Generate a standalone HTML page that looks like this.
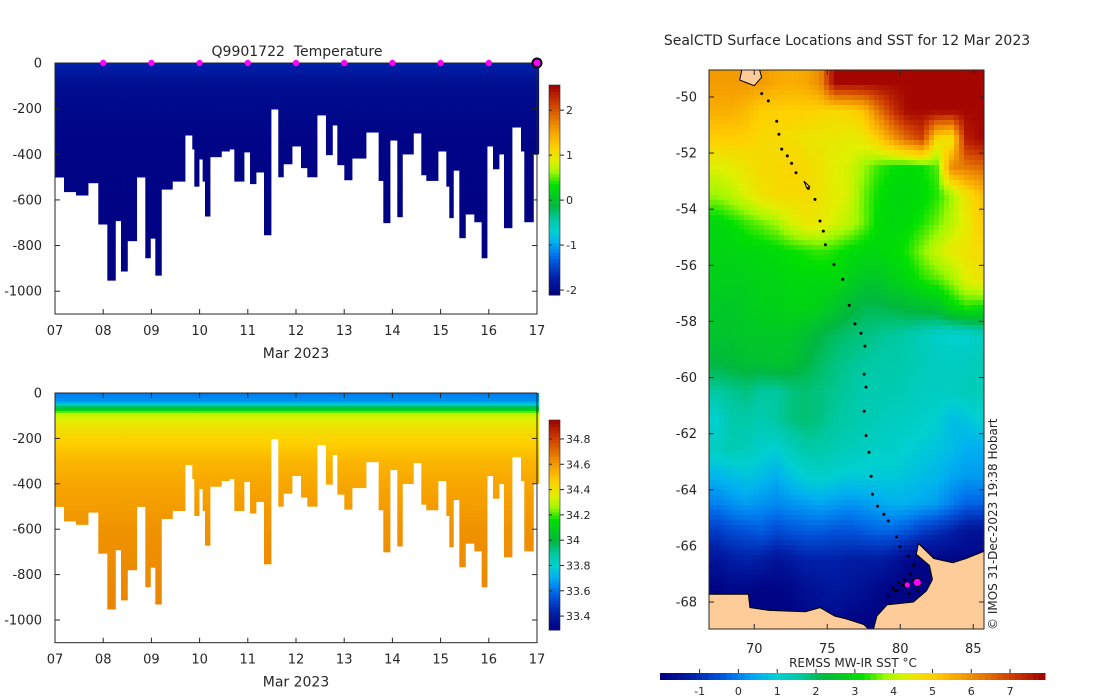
<!DOCTYPE html>
<html><head><meta charset="utf-8"><style>
html,body{margin:0;padding:0;background:#fff;}
svg{display:block;font-family:"DejaVu Sans","Liberation Sans",sans-serif;}
text{fill:#262626;}
</style></head><body>
<svg id="s" width="1100" height="700" viewBox="0 0 1100 700" xmlns="http://www.w3.org/2000/svg">
<defs>
<clipPath id="mapclip"><rect x="709" y="70" width="275" height="559"/></clipPath>
</defs>
<g id="topPanel"></g>
<g id="botPanel"></g>
<g id="mapPanel"></g>
</svg>
<script>
// ---------- profile data ----------
const profileStart=[0,0.187,0.436,0.685,0.899,1.086,1.252,1.369,1.501,1.694,1.874,1.978,2.082,2.206,2.434,2.697,2.849,2.891,2.988,3.064,3.112,3.216,3.451,3.617,3.721,3.921,4.046,4.170,4.336,4.481,4.633,4.737,4.917,5.104,5.235,5.436,5.622,5.754,5.858,6.003,6.162,6.452,6.715,6.812,6.950,7.102,7.206,7.434,7.600,7.704,7.946,8.119,8.181,8.264,8.389,8.513,8.700,8.852,8.963,9.087,9.212,9.315,9.481,9.668,9.737,9.924];
const profileEndLast=10.035;
const profileDepth=[500,564,579,525,706,952,691,912,779,500,854,768,930,553,518,316,377,540,421,518,671,411,386,377,518,390,529,478,753,202,499,442,364,459,499,228,402,272,446,512,417,303,515,700,338,674,399,307,490,515,386,540,678,470,766,662,696,854,364,464,399,722,281,386,696,399];
const levelDepth=[0,20,40,50,60,75,90,150,200,300,400,600,1000];
const tempLevel=[-1.72,-1.75,-1.8,-1.83,-1.86,-1.9,-1.93,-1.97,-2.0,-2.03,-2.05,-2.06,-2.07];
const salLevel=[33.62,33.64,33.68,33.78,33.95,34.1,34.3,34.4,34.45,34.53,34.57,34.62,34.66];
const markerDays=[1,2,3,4,5,6,7,8,9];
const lastMarkerDay=10;
const dayLabels=["07","08","09","10","11","12","13","14","15","16","17"];
const depthTicks=[0,200,400,600,800,1000];
const tempTicks=[2,1,0,-1,-2];
const salTicks=[34.8,34.6,34.4,34.2,34,33.8,33.6,33.4];
// ---------- map data ----------
const gridLon=[67.5,68.5,69.5,70.5,71.5,72.5,73.5,74.5,75.5,76.5,77.5,78.5,79.5,80.5,81.5,82.5,83.5,84.5,85.5];
const gridLat=[-49.5,-50.5,-51.5,-52.5,-53.5,-54.5,-55.5,-56.5,-57.5,-58.5,-59.5,-60.5,-61.5,-62.5,-63.5,-64.5,-65.5,-66.5,-67.5,-68.5];
const sst=[
[5.8,5.8,5.8,5.8,5.6,5.5,5.6,6.0,7.8,7.8,7.8,7.8,7.8,7.8,7.8,7.8,7.8,7.8,7.8],
[5.5,5.5,5.3,5.0,5.0,5.0,5.0,4.9,4.8,4.9,5.2,6.3,7.2,7.8,7.8,7.8,7.8,7.8,7.8],
[5.0,5.0,5.0,4.8,4.8,4.7,4.6,4.5,4.5,4.4,4.5,5.0,5.8,6.5,7.0,4.8,4.5,7.5,7.8],
[4.3,4.4,4.6,4.8,4.8,4.9,4.8,4.6,4.3,4.2,3.8,3.4,3.2,3.1,3.2,3.5,6.0,6.3,6.5],
[3.8,4.0,4.3,4.6,4.8,4.8,4.8,4.6,4.4,4.2,3.6,3.2,3.0,3.0,3.1,3.3,3.8,4.6,5.2],
[3.0,3.2,3.4,3.6,3.8,4.2,4.5,4.5,4.2,4.0,3.6,3.1,3.0,3.1,3.3,3.6,4.0,4.4,5.0],
[2.9,2.9,3.0,3.0,3.1,3.2,3.3,3.4,3.3,3.1,3.0,3.0,3.1,3.3,3.7,4.1,4.4,4.6,4.8],
[2.8,2.8,2.8,2.9,2.9,3.0,3.0,3.0,3.0,2.8,2.6,2.6,2.8,3.0,3.3,3.5,3.8,4.3,4.6],
[2.6,2.6,2.7,2.8,2.8,2.9,2.9,2.8,2.6,2.3,2.1,2.1,2.2,2.3,2.4,2.5,3.0,3.3,3.2],
[2.5,2.5,2.6,2.6,2.6,2.6,2.4,2.2,2.0,1.9,1.8,1.7,1.6,1.5,1.3,1.1,1.0,1.0,1.2],
[2.2,2.3,2.4,2.4,2.5,2.4,2.2,2.0,1.8,1.7,1.6,1.5,1.5,1.4,1.3,1.2,1.2,1.2,1.3],
[1.6,1.7,1.8,1.6,1.6,1.8,1.9,1.8,1.7,1.6,1.4,1.4,1.4,1.3,1.2,1.2,1.2,1.3,1.3],
[1.0,1.5,1.5,1.4,1.6,1.8,1.9,1.8,1.6,1.5,1.4,1.3,1.2,1.2,1.1,1.0,0.7,0.8,1.0],
[1.2,1.4,1.3,1.1,1.0,1.3,1.5,1.5,1.4,1.3,1.2,1.1,1.1,1.0,0.9,0.8,0.7,0.5,0.5],
[0.6,0.7,0.8,0.7,0.5,0.8,1.0,1.1,1.0,0.9,0.9,0.9,0.9,0.8,0.7,0.6,0.4,0.3,0.3],
[0.0,0.2,0.3,0.2,0.1,0.2,0.3,0.4,0.3,0.2,0.3,0.4,0.5,0.5,0.4,0.3,0.0,-0.3,-0.3],
[-0.8,-0.6,-0.5,-0.4,-0.6,-0.5,-0.4,-0.4,-0.5,-0.5,-0.4,-0.3,-0.3,-0.5,-0.8,-1.0,-1.2,-1.5,-1.6],
[-1.5,-1.3,-1.2,-1.3,-1.5,-1.4,-1.2,-1.2,-1.2,-1.3,-1.3,-1.3,-1.5,-1.8,-1.9,-1.9,-1.9,-1.8,-1.8],
[-1.9,-1.8,-1.8,-1.9,-1.9,-1.8,-1.6,-1.5,-1.4,-1.5,-1.6,-1.8,-1.9,-1.9,-1.9,-1.9,-1.9,-1.9,-1.9],
[-1.9,-1.9,-1.9,-1.9,-1.9,-1.9,-1.8,-1.7,-1.7,-1.8,-1.9,-1.9,-1.9,-1.9,-1.9,-1.9,-1.9,-1.9,-1.9]];
const trackLon=[70.51,70.96,71.54,71.69,71.88,72.26,72.56,72.86,73.70,74.16,74.5,74.73,74.87,75.46,76.06,76.5,76.9,77.31,77.58,77.52,77.65,77.52,77.65,77.86,78.0,78.1,78.45,78.88,79.18,79.75,79.98,80.55,80.9,80.7,80.3,79.9,79.5,80.9,81.2,80.6,79.8,79.2,79.6,80.2];
const trackLat=[-49.88,-50.14,-50.87,-51.33,-51.86,-52.1,-52.37,-52.70,-53.26,-53.65,-54.42,-54.78,-55.27,-55.97,-56.5,-57.43,-58.09,-58.42,-58.88,-59.88,-60.34,-61.2,-62.07,-62.66,-63.52,-64.16,-64.58,-64.87,-65.11,-65.68,-66.04,-66.37,-66.7,-67.0,-67.2,-67.3,-67.5,-67.2,-67.6,-67.7,-67.6,-67.8,-67.6,-67.4];
const latestLon=[80.48,81.17];
const latestLat=[-67.39,-67.3];
const landWestLon=[66.5,69.6,69.7,71,73.5,74.5,75.5,76.3,77.5,77.8,77.8,66.5];
const landWestLat=[-67.72,-67.72,-68.2,-68.3,-68.35,-68.2,-68.5,-68.6,-68.8,-68.95,-69.5,-69.5];
const landEastLon=[81.24,82.3,83.6,84.5,85.7,86.5,86.5,77.9,78.4,79.1,80.9,81.8,82.2,82.0,81.1];
const landEastLat=[-65.91,-66.45,-66.6,-66.45,-66.2,-66.2,-69.5,-69.5,-68.5,-68.1,-68.0,-67.6,-67.2,-66.7,-66.3];
const kergLon=[69.2,70.3,70.5,70.0,69.5,69.0];
const kergLat=[-48.9,-48.9,-49.3,-49.6,-49.5,-49.4];
const heardLon=[73.4,73.8,73.6];
const heardLat=[-53.0,-53.2,-53.25];
const latTicks=[-50,-52,-54,-56,-58,-60,-62,-64,-66,-68];
const lonTicks=[70,75,80,85];
const sstTicks=[-1,0,1,2,3,4,5,6,7];

// ---------- colormap ----------
const cmV=[-2,-1.2,-0.5,0,0.5,1.0,1.6,2.2,3.2,3.8,4.3,5,5.6,6.2,7,7.9];
const cmC=["#000080","#0020a8","#0050d8","#0080f0","#00b0f0","#00d0d0","#00c8a0","#00b840","#00e000","#a0f800","#e0f000","#ffd000","#f8a800","#e88000","#d04000","#a00000"];
function hex(c){return [parseInt(c.slice(1,3),16),parseInt(c.slice(3,5),16),parseInt(c.slice(5,7),16)];}
function cmap(f){
  let v=-2.02+f*9.92;
  if(v<=cmV[0])return cmC[0]; if(v>=cmV[cmV.length-1])return cmC[cmC.length-1];
  for(let i=0;i<cmV.length-1;i++){ if(v<=cmV[i+1]){const t=(v-cmV[i])/(cmV[i+1]-cmV[i]);const a=hex(cmC[i]),b=hex(cmC[i+1]);
    return "rgb("+a.map((x,k)=>Math.round(x+(b[k]-x)*t)).join(",")+")";}}
  return cmC[cmC.length-1];
}
const NS="http://www.w3.org/2000/svg";
function mk(tag,attrs,parent,txt){const e=document.createElementNS(NS,tag);for(const k in attrs)e.setAttribute(k,attrs[k]);if(txt!==undefined)e.textContent=txt;parent.appendChild(e);return e;}
function interp(xs,ys,x){if(x<=xs[0])return ys[0];for(let i=0;i<xs.length-1;i++){if(x<=xs[i+1]){const t=(x-xs[i])/(xs[i+1]-xs[i]);return ys[i]+(ys[i+1]-ys[i])*t;}}return ys[ys.length-1];}
const AX="#262626";

function panel(g,y0,pxPerM,levelVals,vmin,vmax,ticks,cbTop,cbBot,title,idp){
  const X0=55,X1=537,pxDay=48.2,YB=y0+1100*pxPerM;
  const xD=d=>X0+d*pxDay, yZ=z=>y0+z*pxPerM, fV=v=>(v-vmin)/(vmax-vmin);
  const data=mk("g",{},g);
  
  
  for(let i=0;i<profileStart.length;i++){
    const a=xD(profileStart[i]), b=xD(i+1<profileStart.length?profileStart[i+1]:profileEndLast);
    const dmax=profileDepth[i];
    for(let z=0;z<dmax;z+=8){
      const z2=Math.min(z+8,dmax);
      const v=interp(levelDepth,levelVals,(z+z2)/2);
      const r=mk("rect",{x:a.toFixed(2),y:yZ(z).toFixed(2),width:(b-a+0.4).toFixed(2),height:((z2-z)*pxPerM+0.4).toFixed(2),fill:cmap(fV(v))},data);
      
      
    }
  }
  const box=mk("rect",{x:X0,y:y0,width:X1-X0,height:YB-y0,fill:"none",stroke:AX,"stroke-width":1},g);
  
  
  dayLabels.forEach((l,i)=>{const x=xD(i);
    mk("line",{x1:x,x2:x,y1:YB,y2:YB-5,stroke:AX},g);mk("line",{x1:x,x2:x,y1:y0,y2:y0+5,stroke:AX},g);
    const t=mk("text",{x:x,y:YB+21,"font-size":13,"text-anchor":"middle"},g,l);
    
    
  });
  depthTicks.forEach(d=>{const y=yZ(d);
    mk("line",{x1:X0,x2:X0+5,y1:y,y2:y,stroke:AX},g);mk("line",{x1:X1,x2:X1-5,y1:y,y2:y,stroke:AX},g);
    const t=mk("text",{x:X0-13,y:y+4.5,"font-size":13,"text-anchor":"end"},g,d===0?"0":"-"+d);
    
    
  });
  const xl=mk("text",{x:296,y:YB+44,"font-size":14,"text-anchor":"middle"},g,"Mar 2023");
  
  
  if(title){const t=mk("text",{x:297,y:y0-7,"font-size":14,"text-anchor":"middle"},g,title);
    
    }
  const cb=mk("g",{},g);
  
  
  const n=64;
  for(let k=0;k<n;k++){const y=cbBot-(k+1)*(cbBot-cbTop)/n;
    mk("rect",{x:549,y:y.toFixed(2),width:11,height:((cbBot-cbTop)/n+0.5).toFixed(2),fill:cmap((k+0.5)/n)},cb);}
  mk("rect",{x:549,y:cbTop,width:11,height:cbBot-cbTop,fill:"none",stroke:AX,"stroke-width":0.6},cb);
  ticks.forEach(v=>{const y=cbBot-(v-vmin)/(vmax-vmin)*(cbBot-cbTop);
    mk("line",{x1:560,x2:564,y1:y,y2:y,stroke:AX},cb);mk("line",{x1:549,x2:552,y1:y,y2:y,stroke:AX},cb);
    const t=mk("text",{x:566,y:y+4,"font-size":11,"text-anchor":"start"},cb,String(v));
    
    
  });
  return {xD:xD,y0:y0};
}
const topG=document.getElementById("topPanel");
const P=panel(topG,63,0.2282,tempLevel,-2.11,2.56,tempTicks,85,295,"Q9901722\u00a0 Temperature","temperature");
markerDays.forEach(d=>{const c=mk("circle",{cx:P.xD(d),cy:63,r:3.2,fill:"#ff00ff"},topG);
  
  });
const lm=mk("circle",{cx:P.xD(lastMarkerDay),cy:63,r:4.5,fill:"#ff00ff",stroke:"#000","stroke-width":2},topG);


panel(document.getElementById("botPanel"),393,0.227,salLevel,33.29,34.95,salTicks,420,630,null,"salinity");

// ---------- map ----------
const mapG=document.getElementById("mapPanel");
const MX0=709,MX1=984,MY0=70,MY1=629;
const xL=lon=>MX0+(lon-66.9)*14.6, yL=lat=>MY0+(-49.04-lat)*28.06;
const lonX=x=>66.9+(x-MX0)/14.6, latY=y=>-49.04-(y-MY0)/28.06;
const fS=v=>(v+2.02)/9.92;
function sstAt(lon,lat){
  let ci=Math.max(0,Math.min(gridLon.length-1.0001,lon-gridLon[0]));
  let ri=Math.max(0,Math.min(gridLat.length-1.0001,gridLat[0]-lat));
  const c0=Math.floor(ci),r0=Math.floor(ri),tc=ci-c0,tr=ri-r0;
  const a=sst[r0][c0]*(1-tc)+sst[r0][c0+1]*tc, b=sst[r0+1][c0]*(1-tc)+sst[r0+1][c0+1]*tc;
  return a*(1-tr)+b*tr;
}
const clipG=mk("g",{"clip-path":"url(#mapclip)"},mapG);
const heat=mk("g",{"shape-rendering":"crispEdges"},clipG);


const CS=5;
for(let y=MY0;y<MY1;y+=CS)for(let x=MX0;x<MX1;x+=CS){
  const v=sstAt(lonX(x+CS/2),latY(y+CS/2));
  const cell=mk("rect",{x:x,y:y,width:CS+0.5,height:CS+0.5,fill:cmap(fS(v))},heat);
  
  
}
function poly(lons,lats,name){const p=mk("polygon",{points:lons.map((l,i)=>xL(l).toFixed(1)+","+yL(lats[i]).toFixed(1)).join(" "),fill:"#fdcc99",stroke:"#000","stroke-width":1},clipG);
  
  }
poly(landWestLon,landWestLat,"antarctic-land-west");
poly(landEastLon,landEastLat,"antarctic-land-east");
poly(kergLon,kergLat,"kerguelen-island");
poly(heardLon,heardLat,"heard-island");
trackLon.forEach((l,i)=>{const d=mk("circle",{cx:xL(l).toFixed(1),cy:yL(trackLat[i]).toFixed(1),r:1.5,fill:"#000"},clipG);
  
  });
latestLon.forEach((l,i)=>{const d=mk("circle",{cx:xL(l).toFixed(1),cy:yL(latestLat[i]).toFixed(1),r:i===1?4:3,fill:"#ff00ff",stroke:"#000","stroke-width":0.8},clipG);
  
  });
const mb=mk("rect",{x:MX0,y:MY0,width:MX1-MX0,height:MY1-MY0,fill:"none",stroke:AX},mapG);


latTicks.forEach(v=>{const y=yL(v);
  mk("line",{x1:MX0,x2:MX0+5,y1:y,y2:y,stroke:AX},mapG);mk("line",{x1:MX1,x2:MX1-5,y1:y,y2:y,stroke:AX},mapG);
  const t=mk("text",{x:697,y:y+4.5,"font-size":13,"text-anchor":"end"},mapG,String(v));
  
  });
lonTicks.forEach(v=>{const x=xL(v);
  mk("line",{x1:x,x2:x,y1:MY1,y2:MY1-5,stroke:AX},mapG);mk("line",{x1:x,x2:x,y1:MY0,y2:MY0+5,stroke:AX},mapG);
  const t=mk("text",{x:x,y:653,"font-size":13,"text-anchor":"middle"},mapG,String(v));
  
  });
const mt=mk("text",{x:847,y:45,"font-size":14,"text-anchor":"middle"},mapG,"SealCTD Surface Locations and SST for 12 Mar 2023");


const cr=mk("text",{x:0,y:0,"font-size":12,"text-anchor":"start",transform:"translate(997,630) rotate(-90)"},mapG,"© IMOS 31-Dec-2023 19:38 Hobart");


const hcb=mk("g",{},mapG);


const HX0=660,HX1=1045,n2=64;
for(let k=0;k<n2;k++){const x=HX0+k*(HX1-HX0)/n2;
  mk("rect",{x:x.toFixed(2),y:673,width:((HX1-HX0)/n2+0.5).toFixed(2),height:7,fill:cmap((k+0.5)/n2)},hcb);}
sstTicks.forEach(v=>{const x=HX0+(v+2.02)/9.92*(HX1-HX0);
  mk("line",{x1:x,x2:x,y1:669,y2:673,stroke:AX},hcb);
  const t=mk("text",{x:x,y:695,"font-size":11,"text-anchor":"middle"},hcb,String(v));
  
  });
const ct=mk("text",{x:853,y:667,"font-size":12,"text-anchor":"middle"},hcb,"REMSS MW-IR SST °C");


</script>
</body></html>
